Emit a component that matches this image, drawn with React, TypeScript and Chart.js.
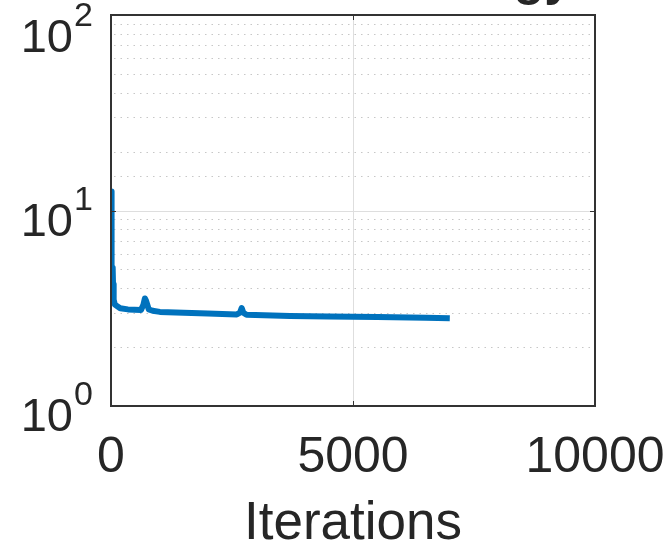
import React, { useEffect, useRef } from "react";
import { Chart, registerables } from "chart.js";

Chart.register(...registerables);

const iterations = [0, 12, 25, 35, 42, 55, 80, 190, 350, 620, 670, 700, 725, 780, 860, 1010, 1500, 2000, 2600, 2665, 2700, 2735, 2800, 3700, 4500, 5500, 6500, 7000];
const energy = [12.5, 5.2, 5.1, 5.0, 4.2, 3.5, 3.3, 3.16, 3.12, 3.1, 3.3, 3.55, 3.45, 3.12, 3.07, 3.03, 3.0, 2.97, 2.94, 3.0, 3.17, 3.0, 2.93, 2.89, 2.87, 2.85, 2.83, 2.81];

const xTicks = [0, 5000, 10000];
const yExponents = [0, 1, 2];
const xLabel = "Iterations";
const titleText = "Energy";

const FONT = '"Liberation Sans", Arial, Helvetica, sans-serif';
const TEXT = "#262626";

const customPlugin = {
  id: "matlabLook",
  beforeDraw(chart: any) {
    const ctx = chart.ctx;
    ctx.save();
    ctx.fillStyle = "#ffffff";
    ctx.fillRect(0, 0, chart.width, chart.height);
    ctx.restore();
  },
  beforeDatasetsDraw(chart: any) {
    const ctx = chart.ctx;
    const { left, right, top, bottom } = chart.chartArea;
    const ys = chart.scales.y;
    const xs = chart.scales.x;
    ctx.save();
    // minor dotted grid
    ctx.lineWidth = 1;
    ctx.strokeStyle = "rgba(0,0,0,0.22)";
    ctx.setLineDash([1.5, 5]);
    ys.ticks.forEach((t: any) => {
      const lg = Math.log10(t.value);
      if (Math.abs(lg - Math.round(lg)) < 1e-9) return;
      const py = Math.round(ys.getPixelForValue(t.value)) + 0.5;
      ctx.beginPath();
      ctx.moveTo(left + 3, py);
      ctx.lineTo(right - 3, py);
      ctx.stroke();
    });
    // major solid grid
    ctx.setLineDash([]);
    ctx.strokeStyle = "#dedede";
    ys.ticks.forEach((t: any) => {
      const lg = Math.log10(t.value);
      if (Math.abs(lg - Math.round(lg)) > 1e-9) return;
      const py = Math.round(ys.getPixelForValue(t.value)) + 0.5;
      if (py <= top + 2 || py >= bottom - 2) return;
      ctx.beginPath();
      ctx.moveTo(left, py);
      ctx.lineTo(right, py);
      ctx.stroke();
    });
    xs.ticks.forEach((t: any) => {
      const px = Math.round(xs.getPixelForValue(t.value)) + 0.5;
      if (px <= left + 2 || px >= right - 2) return;
      ctx.beginPath();
      ctx.moveTo(px, top);
      ctx.lineTo(px, bottom);
      ctx.stroke();
    });
    ctx.restore();
  },
  afterDatasetsDraw(chart: any) {
    const ctx = chart.ctx;
    const { left, right, top, bottom } = chart.chartArea;
    const ys = chart.scales.y;
    const xs = chart.scales.x;
    ctx.save();
    ctx.strokeStyle = "#333333";
    ctx.lineWidth = 2;
    ctx.strokeRect(left, top, right - left, bottom - top);
    ctx.lineWidth = 1;
    // inward major ticks
    yExponents.forEach((e) => {
      const py = Math.round(ys.getPixelForValue(Math.pow(10, e))) + 0.5;
      ctx.beginPath();
      ctx.moveTo(left, py);
      ctx.lineTo(left + 5, py);
      ctx.moveTo(right, py);
      ctx.lineTo(right - 5, py);
      ctx.stroke();
    });
    xTicks.forEach((v) => {
      const px = Math.round(xs.getPixelForValue(v)) + 0.5;
      ctx.beginPath();
      ctx.moveTo(px, bottom);
      ctx.lineTo(px, bottom - 5);
      ctx.moveTo(px, top);
      ctx.lineTo(px, top + 5);
      ctx.stroke();
    });
    ctx.restore();
  },
  afterDraw(chart: any) {
    const ctx = chart.ctx;
    const ys = chart.scales.y;
    ctx.save();
    ctx.fillStyle = TEXT;
    ctx.textBaseline = "alphabetic";
    yExponents.forEach((e) => {
      const py = ys.getPixelForValue(Math.pow(10, e));
      let base = py + 25;
      let supBase = py - 1;
      const supTop = supBase - 24;
      if (supTop < 2) {
        const shift = 2 - supTop;
        base += shift;
        supBase += shift;
      }
      ctx.font = `47px ${FONT}`;
      ctx.textAlign = "right";
      ctx.fillText("10", 73, base);
      ctx.font = `34px ${FONT}`;
      ctx.textAlign = "left";
      ctx.fillText(String(e), 74, supBase);
    });
    // title (mostly above the visible area)
    ctx.font = `bold 50px ${FONT}`;
    ctx.textAlign = "right";
    ctx.fillText(titleText, 572, -5);
    ctx.restore();
  },
};

export default function App() {
  const ref = useRef<HTMLCanvasElement | null>(null);
  useEffect(() => {
    if (!ref.current) return;
    const chart = new Chart(ref.current, {
      type: "line",
      data: {
        datasets: [
          {
            data: iterations.map((x, i) => ({ x, y: energy[i] })),
            borderColor: "#0072BD",
            borderWidth: 6,
            pointRadius: 0,
            tension: 0,
            fill: false,
            borderJoinStyle: "round",
            borderCapStyle: "butt",
          },
        ],
      },
      options: {
        animation: false,
        responsive: false,
        devicePixelRatio: 1,
        layout: { padding: { left: 0, right: 73, top: 15, bottom: 0 } },
        plugins: { legend: { display: false }, tooltip: { enabled: false }, title: { display: false } },
        scales: {
          x: {
            type: "linear",
            min: 0,
            max: 10000,
            afterBuildTicks: (s: any) => {
              s.ticks = xTicks.map((v) => ({ value: v }));
            },
            ticks: {
              font: { family: FONT, size: 50, lineHeight: 1.2 },
              color: TEXT,
              padding: 22,
              maxRotation: 0,
              autoSkip: false,
              callback: (v: any) => String(v),
            },
            grid: { display: false, drawTicks: false },
            border: { display: false },
            title: {
              display: true,
              text: xLabel,
              color: TEXT,
              font: { family: FONT, size: 53, lineHeight: 0.8 },
              padding: { top: 0, bottom: 1 },
            },
            afterFit: (s: any) => {
              s.height = 141;
              s.paddingLeft = 0;
              s.paddingRight = 0;
            },
          },
          y: {
            type: "logarithmic",
            min: 1,
            max: 100,
            ticks: { display: false },
            grid: { display: false, drawTicks: false },
            border: { display: false },
            afterFit: (s: any) => {
              s.width = 111;
              s.paddingTop = 0;
              s.paddingBottom = 0;
            },
          },
        },
      },
      plugins: [customPlugin],
    } as any);
    return () => chart.destroy();
  }, []);
  return (
    <div style={{ position: "fixed", left: 0, top: 0, width: 668, height: 547, background: "#fff" }}>
      <canvas ref={ref} width={668} height={547} style={{ display: "block" }} />
    </div>
  );
}
